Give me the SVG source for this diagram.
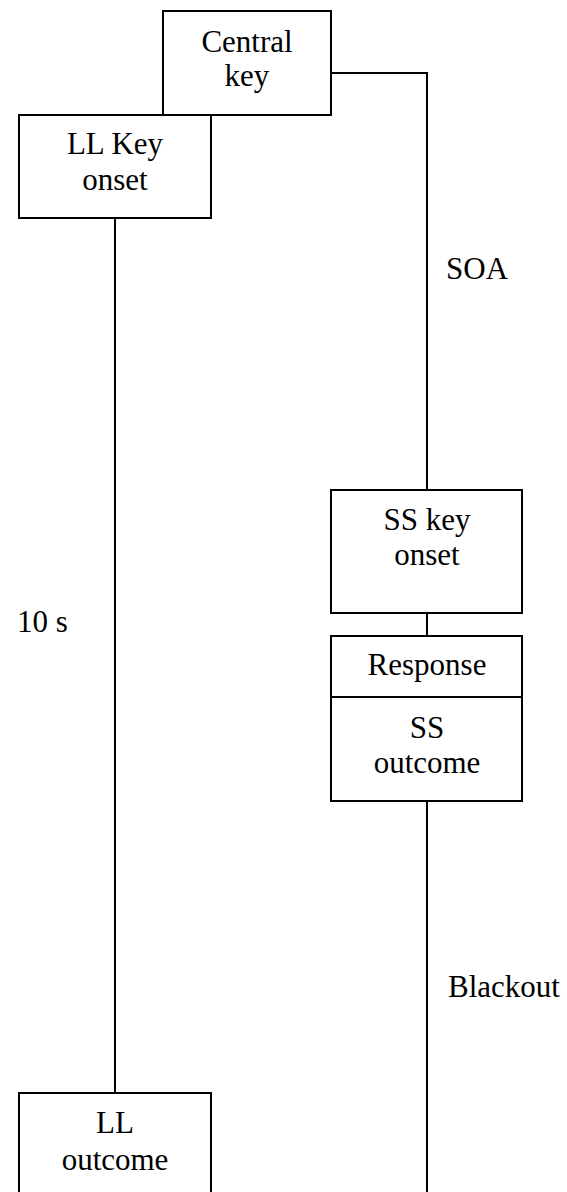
<svg xmlns="http://www.w3.org/2000/svg" width="567" height="1192" viewBox="0 0 567 1192">
<style>
.box{fill:#fff;stroke:#000;stroke-width:2}
.ln{fill:none;stroke:#000;stroke-width:2}
text{font-family:"Liberation Serif","Times New Roman",serif;font-size:31px;fill:#000}
.c{text-anchor:middle}
</style>
<rect width="567" height="1192" fill="#fff"/>
<g id="connectors">
<polyline class="ln" points="331,73 427,73 427,490"/>
<line class="ln" x1="115" y1="218" x2="115" y2="1093"/>
<line class="ln" x1="427" y1="613" x2="427" y2="636"/>
<line class="ln" x1="427" y1="801" x2="427" y2="1192"/>
</g>
<g id="central-key">
<rect class="box" x="163" y="11" width="168" height="104"/>
<text class="c" x="247" y="52">Central</text>
<text class="c" x="247" y="86">key</text>
</g>
<g id="ll-key-onset">
<rect class="box" x="19" y="115" width="192" height="103"/>
<text class="c" x="115" y="154">LL Key</text>
<text class="c" x="115" y="190">onset</text>
</g>
<g id="ss-key-onset">
<rect class="box" x="331" y="490" width="191" height="123"/>
<text class="c" x="427" y="530">SS key</text>
<text class="c" x="427" y="565">onset</text>
</g>
<g id="response">
<rect class="box" x="331" y="636" width="191" height="61"/>
<text class="c" x="427" y="675">Response</text>
</g>
<g id="ss-outcome">
<rect class="box" x="331" y="697" width="191" height="104"/>
<text class="c" x="427" y="738">SS</text>
<text class="c" x="427" y="773">outcome</text>
</g>
<g id="ll-outcome">
<rect class="box" x="19" y="1093" width="192" height="110"/>
<text class="c" x="115" y="1133">LL</text>
<text class="c" x="115" y="1170">outcome</text>
</g>
<g id="labels">
<text x="446" y="279">SOA</text>
<text x="17" y="632">10 s</text>
<text x="448" y="997">Blackout</text>
</g>
</svg>
